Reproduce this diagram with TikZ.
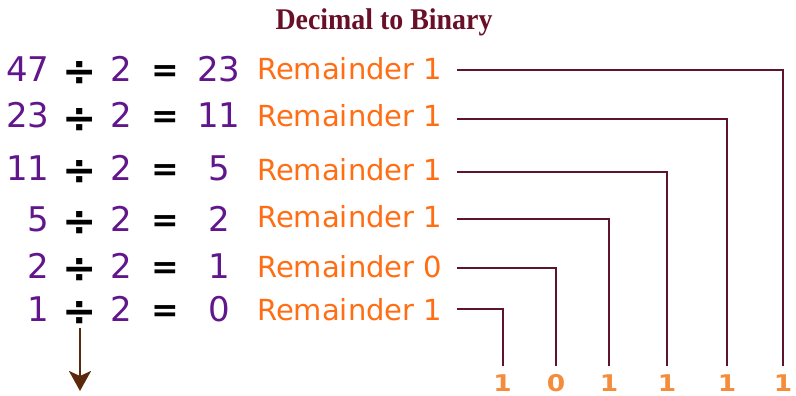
\documentclass[tikz,border=0pt]{standalone}
\usepackage{fontspec}
\setmainfont{DejaVu Sans}
\newfontfamily\titlefont[FakeStretch=0.93]{Liberation Serif}
\newfontfamily\bitfont[FakeStretch=1.15]{DejaVu Sans}
\usetikzlibrary{arrows.meta}
\definecolor{numpurple}{RGB}{98,22,140}
\definecolor{remorange}{RGB}{255,110,20}
\definecolor{bitorange}{RGB}{245,140,60}
\definecolor{linemaroon}{RGB}{95,20,45}
\definecolor{titlemaroon}{RGB}{105,15,40}
\definecolor{arrowbrown}{RGB}{90,40,10}
\tikzset{
  num/.style={inner sep=0pt, anchor=base, text=numpurple, font=\fontsize{34}{40}\selectfont},
  lnum/.style={num, anchor=base east},
  op/.style={inner sep=0pt, anchor=base, text=black, font=\fontsize{33}{40}\selectfont\bfseries},
  divop/.style={inner sep=0pt, anchor=base, text=black, font=\fontsize{41}{46}\selectfont\bfseries},
  rem/.style={inner sep=0pt, anchor=base west, text=remorange, font=\fontsize{29}{34}\selectfont},
  bit/.style={inner sep=0pt, anchor=base, text=bitorange, font=\bitfont\fontsize{23}{26}\selectfont\bfseries},
  conn/.style={draw=linemaroon, line width=2pt},
  downarrow/.style={draw=arrowbrown, line width=2.6pt, -{Stealth[length=20pt,width=22pt,inset=5pt]}},
  ttl/.style={inner sep=0pt, anchor=base, text=titlemaroon, font=\titlefont\fontsize{30}{34}\selectfont\bfseries}
}
\begin{document}
\begin{tikzpicture}[x=1pt,y=-1pt]
\useasboundingbox (0,0) rectangle (796,396);
\node[ttl] (title) at (384,30) {Decimal to Binary};
% rows: baselines
\foreach \i/\a/\c/\y in {1/47/23/82, 2/23/11/128, 3/11/5/180, 4/5/2/231, 5/2/1/278, 6/1/0/321}{
  \node[lnum] (a\i) at (49.5,\y) {\a};
  \node[divop] (d\i) at (80,\y+4) {÷};
  \node[num] (two\i) at (121,\y) {2};
  \node[op] (eq\i) at (165,\y) {=};
  \node[num] (q\i) at (219,\y) {\c};
}
\node[rem] (r1) at (257,80) {Remainder 1};
\node[rem] (r2) at (257,127) {Remainder 1};
\node[rem] (r3) at (257,180) {Remainder 1};
\node[rem] (r4) at (257,227) {Remainder 1};
\node[rem] (r5) at (257,277) {Remainder 0};
\node[rem] (r6) at (257,320) {Remainder 1};
% bits
\node[bit] (b1) at (502.5,391) {1};
\node[bit] (b2) at (556,391) {0};
\node[bit] (b3) at (609,391) {1};
\node[bit] (b4) at (667,391) {1};
\node[bit] (b5) at (727,391) {1};
\node[bit] (b6) at (783,391) {1};
% connectors
\draw[conn] ([xshift=15pt,yshift=9.7pt]r1.base east) -| ([yshift=8pt]b6.north);
\draw[conn] ([xshift=15pt,yshift=7.7pt]r2.base east) -| ([yshift=8pt]b5.north);
\draw[conn] ([xshift=15pt,yshift=7.7pt]r3.base east) -| ([yshift=8pt]b4.north);
\draw[conn] ([xshift=15pt,yshift=7.7pt]r4.base east) -| ([yshift=8pt]b3.north);
\draw[conn] ([xshift=15pt,yshift=8.7pt]r5.base east) -| ([yshift=8pt]b2.north);
\draw[conn] ([xshift=15pt,yshift=10.7pt]r6.base east) -| ([yshift=8pt]b1.north);
% arrow
\coordinate (arrowend) at (80,391);
\draw[downarrow] ([yshift=-3pt]d6.base) -- (arrowend);
\end{tikzpicture}
\end{document}
